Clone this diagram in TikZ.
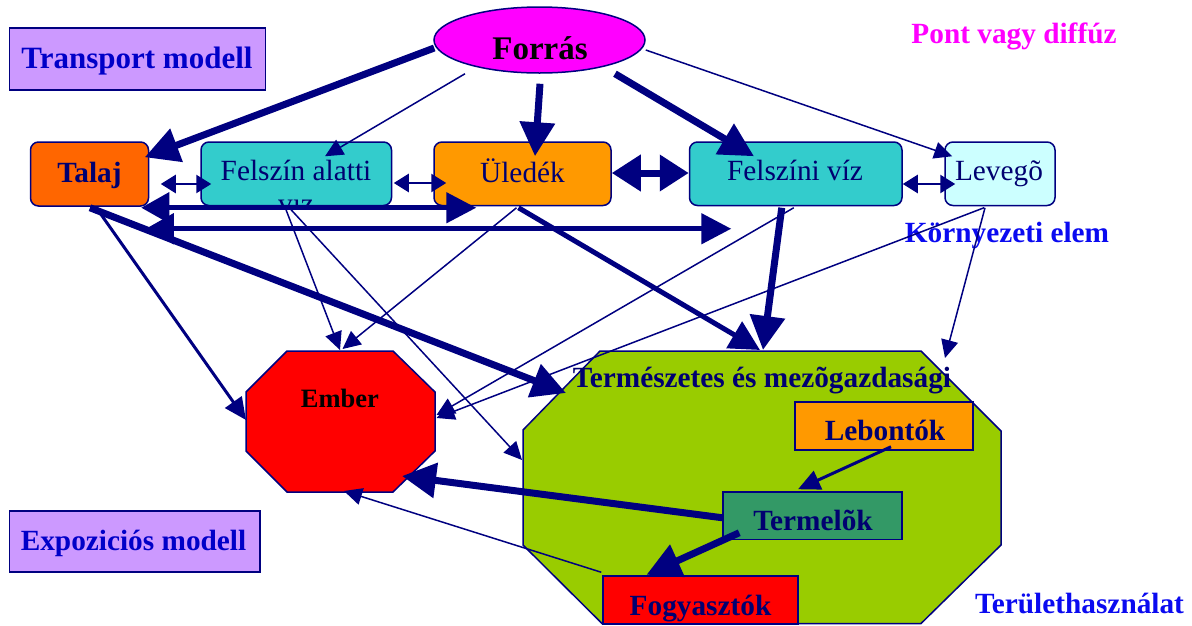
\documentclass[tikz,border=0pt]{standalone}
\usepackage{fontspec}
\setmainfont{Liberation Serif}
\usetikzlibrary{arrows.meta,calc,shapes.geometric}
\definecolor{navy}{HTML}{000080}
\definecolor{txtnavy}{HTML}{000070}
\definecolor{tblue}{HTML}{0000C8}
\definecolor{kblue}{HTML}{0A0AF0}
\definecolor{lav}{HTML}{CC99FF}
\definecolor{mag}{HTML}{FF00FF}
\definecolor{talajc}{HTML}{FF6600}
\definecolor{cyanc}{HTML}{33CCCC}
\definecolor{orangec}{HTML}{FF9900}
\definecolor{lightc}{HTML}{CCFFFF}
\definecolor{greenc}{HTML}{99CC00}
\definecolor{termc}{HTML}{339966}
\definecolor{redc}{HTML}{FF0000}
\begin{document}
\begin{tikzpicture}[x=1pt,y=-1pt,
  box/.style={draw=navy,line width=1.5pt,inner sep=0pt},
  rbox/.style={box,rounded corners=8pt},
  lbl/.style={anchor=base,inner sep=0pt,text=txtnavy,font=\fontsize{29.3}{33}\selectfont},
  blbl/.style={lbl,font=\fontsize{29.3}{33}\selectfont\bfseries},
  thinarr/.style={draw=navy,line width=1.5pt,-{Triangle[length=18pt,width=17pt]}},
  medarr/.style={draw=navy,line width=3pt,-{Triangle[length=22pt,width=20pt]}},
  semiarr/.style={draw=navy,line width=5pt,-{Triangle[length=30pt,width=30pt]}},
  thickarr/.style={draw=navy,line width=7pt,-{Triangle[length=34pt,width=34pt]}},
  smalldbl/.style={draw=navy,line width=2.5pt,{Triangle[length=15pt,width=18pt]}-{Triangle[length=15pt,width=18pt]}},
  longdbl/.style={draw=navy,line width=5pt,{Triangle[length=28pt,width=30pt]}-{Triangle[length=30pt,width=30pt]}},
  bigdbl/.style={draw=navy,line width=7pt,{Triangle[length=29pt,width=35pt]}-{Triangle[length=29pt,width=35pt]}}
]
\useasboundingbox (0,0) rectangle (1192,625);

% ---------- shapes ----------
\node[box,fill=lav,minimum width=256pt,minimum height=62pt] (tm) at (137.5,59) {};
\node[box,fill=lav,minimum width=250.5pt,minimum height=61pt] (em) at (134.75,541.5) {};
\node[box,ellipse,fill=mag,minimum width=211pt,minimum height=66pt] (forras) at (539.5,40) {};
\node[rbox,fill=talajc,minimum width=118pt,minimum height=64pt] (talaj) at (89.5,174) {};
\node[rbox,fill=cyanc,minimum width=190.5pt,minimum height=63.5pt] (felsza) at (296.25,173.75) {};
\node[rbox,fill=orangec,minimum width=177pt,minimum height=63.5pt] (uledek) at (522.5,173.75) {};
\node[rbox,fill=cyanc,minimum width=212.5pt,minimum height=63.5pt] (felszv) at (795.75,173.75) {};
\node[rbox,fill=lightc,minimum width=110pt,minimum height=63.5pt] (levego) at (1000,173.75) {};

\draw[box,fill=redc] (287,351) -- (393,351) -- (435,392) -- (435,451) -- (393,492)
  -- (287,492) -- (246,451) -- (246,392) -- cycle;
\coordinate (emberc) at (340.5,421.5);
\draw[box,fill=greenc] (600,351) -- (921,351) -- (1001,431) -- (1001,545) -- (921,623.5)
  -- (602,623.5) -- (523,545) -- (523,430) -- cycle;
\coordinate (greenm) at (762,487);

\node[box,fill=orangec,minimum width=178pt,minimum height=48pt] (lebontok) at (884,426) {};
\node[box,fill=termc,minimum width=179pt,minimum height=47.5pt] (termelok) at (812.5,515.75) {};
\node[box,fill=redc,minimum width=195pt,minimum height=48pt] (fogyasztok) at (700.5,600) {};

% ---------- texts ----------
\node[blbl,text=tblue,font=\fontsize{31}{34}\selectfont\bfseries] (tmt) at (137,68) {Transport modell};
\node[blbl,text=tblue] (emt) at (133.5,550) {Expoziciós modell};
\node[anchor=base,inner sep=0pt,font=\fontsize{33}{36}\selectfont\bfseries] (forrast) at (540,59) {Forrás};
\node[blbl,text=mag] (pont) at (1014,43) {Pont vagy diffúz};
\node[blbl] (talajt) at (89.5,182) {Talaj};
\node[lbl] (felszat) at (296,180) {Felszín alatti};
\begin{scope}
  \clip (201,199) rectangle (392,209);
  \node[lbl] (vizt) at (296,213) {víz};
\end{scope}
\node[lbl] (uledekt) at (522.5,182) {Üledék};
\node[lbl] (felszvt) at (795,180) {Felszíni víz};
\node[lbl] (levegot) at (999,180) {Levegõ};
\node[blbl,text=kblue] (korny) at (1007,242) {Környezeti elem};
\node[anchor=base,inner sep=0pt,font=\fontsize{26.5}{30}\selectfont\bfseries] (embert) at (340,407) {Ember};
\node[blbl] (termt) at (762,387) {Természetes és mezõgazdasági};
\node[blbl] (lebontokt) at (885,440) {Lebontók};
\node[blbl] (termelokt) at (813,530) {Termelõk};
\node[blbl] (fogyt) at (700.5,615) {Fogyasztók};
\node[blbl,text=kblue] (terul) at (1079.5,613) {Területhasználat};

% ---------- connectors ----------
% from Forrás
\draw[thickarr] ($(forras.west)+(1,8)$) -- ($(talaj.north east)+(-4.5,16)$);
\draw[thinarr] ($(forras.south)+(-74.5,0)$) -- ($(felsza.north)+(28.75,15)$);
\draw[thickarr] ($(forras.south)+(0.5,10)$) -- ($(uledek.north)+(12.5,15)$);
\draw[thickarr] ($(forras.south)+(75.5,0)$) -- ($(felszv.north)+(-41.75,15)$);
\draw[thinarr] ($(forras.east)+(0,10)$) -- ($(levego.north west)+(8,15)$);
% between environmental elements
\draw[smalldbl] ($(talaj.east)+(11.5,10)$) -- ($(felsza.west)+(11,10.25)$);
\draw[smalldbl] ($(felsza.east)+(1.5,9.25)$) -- ($(uledek.west)+(13,9.25)$);
\draw[bigdbl] ($(uledek.east)+(0,-0.75)$) -- ($(felszv.west)+(0,-0.75)$);
\draw[smalldbl] ($(felszv.east)+(0,10.25)$) -- ($(levego.west)+(11,10.25)$);
\draw[longdbl] ($(talaj.south east)+(-8,1)$) -- ($(uledek.south west)+(43,1.5)$);
\draw[longdbl] ($(talaj.south east)+(-3.5,22)$) -- ($(felszv.south west)+(42.5,22.5)$);
% to Ember and the land-use octagon
\draw[medarr] ($(talaj.south)+(7.5,2)$) -- ($(emberc)+(-94.5,-1.5)$);
\draw[thickarr] ($(talaj.south)+(0.5,1)$) -- ($(greenm)+(-196,-94)$);
\draw[thinarr] ($(felsza.south)+(-11,1.5)$) -- ($(emberc)+(-0.5,-71.5)$);
\draw[thinarr] ($(felsza.south)+(-7,1.5)$) -- ($(greenm)+(-240,-27)$);
\draw[thinarr] ($(uledek.south)+(-6,1.5)$) -- ($(emberc)+(2,-72.5)$);
\draw[semiarr] ($(uledek.south)+(-4,1.5)$) -- ($(greenm)+(-2,-137)$);
\draw[thickarr] ($(felszv.south)+(-14,1.5)$) -- ($(greenm)+(1,-137)$);
\draw[thinarr] ($(felszv.south)+(-2,1.5)$) -- ($(emberc)+(96,-6.5)$);
\draw[thinarr] ($(levego.south)+(-16,1.5)$) -- ($(emberc)+(96,-3.5)$);
\draw[thinarr] ($(levego.south)+(-15,1.5)$) -- ($(greenm)+(183,-129)$);
% inside land use
\draw[medarr] ($(lebontok.south)+(7,-4)$) -- ($(termelok.north)+(-14.5,-2)$);
\draw[thickarr] ($(termelok.west)+(0,2)$) -- ($(emberc)+(61.5,54.5)$);
\draw[thickarr] ($(termelok.south west)+(17,-7.5)$) -- ($(fogyasztok.north)+(-54,-0.5)$);
\draw[thinarr] ($(fogyasztok.north west)+(-1,-3)$) -- ($(emberc)+(3.5,69.5)$);
\end{tikzpicture}
\end{document}
